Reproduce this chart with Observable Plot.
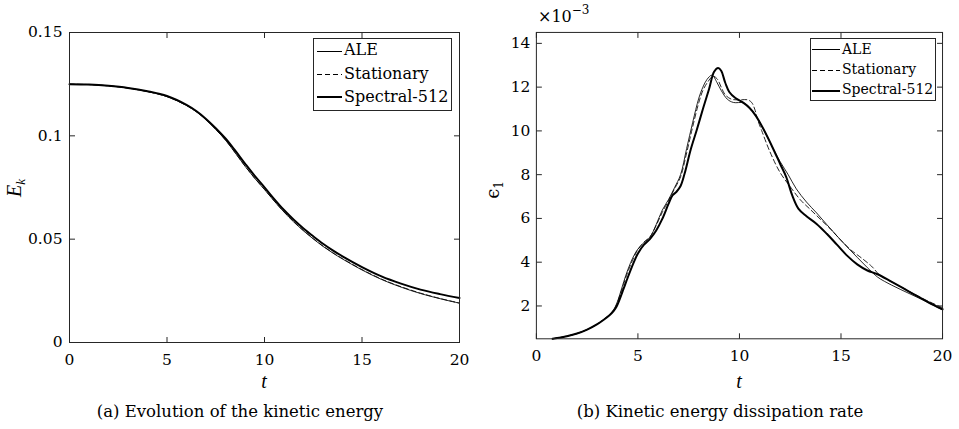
<!DOCTYPE html>
<html>
<head>
<meta charset="utf-8">
<script src="https://cdn.jsdelivr.net/npm/d3@7"></script>
<script src="https://cdn.jsdelivr.net/npm/@observablehq/plot@0.6"></script>
<style>
  body { margin: 0; background: #fff; }
  #fig { position: relative; width: 959px; height: 429px; color: #000; }
  .panel { position: absolute; top: 0; }
  .lbl { position: absolute; white-space: nowrap; line-height: 1; }
  .legend { position: absolute; border: 1px solid #262626; background: #fff; box-sizing: border-box; }
  .legend .txt { position: absolute; white-space: nowrap; line-height: 1; }
  .legend .sw { position: absolute; height: 0; }
</style>
</head>
<body>
<div id="fig">
  <div id="panelA" class="panel" style="left:0"></div>
  <div id="panelB" class="panel" style="left:480px"></div>

  <div class="lbl it" style="left:15px;top:188px;font-size:20px;transform:translate(-50%,-50%) rotate(-90deg)"><i>E</i><sub style="font-size:13px;vertical-align:-4px"><i>k</i></sub></div>
  <div class="lbl it" style="left:264px;top:371px;font-size:20px;transform:translateX(-50%)"><i>t</i></div>
  <div class="lbl rm" style="left:0;width:480px;top:404px;font-size:16.5px;text-align:center">(a) Evolution of the kinetic energy</div>

  <div class="lbl rm" style="left:494px;top:190px;font-size:18px;transform:translate(-50%,-50%) rotate(-90deg)">ϵ<sub style="font-size:12px;vertical-align:-4px">1</sub></div>
  <div class="lbl it" style="left:739px;top:371px;font-size:20px;transform:translateX(-50%)"><i>t</i></div>
  <div class="lbl rm" style="left:480px;width:480px;top:404px;font-size:16.5px;text-align:center">(b) Kinetic energy dissipation rate</div>
  <div class="lbl rm" style="left:538px;top:9px;font-size:16px">×10<span style="font-size:12px;position:relative;top:-8px">−3</span></div>

  <div id="legA" class="legend" style="left:313px;top:38px;width:139px;height:73px"></div>
  <div id="legB" class="legend" style="left:810px;top:38px;width:126px;height:63px"></div>
</div>

<script>
// ---- (a) kinetic energy E_k(t) ----
const ekTime = [0, 1, 2, 3, 4, 5, 6, 6.5, 7, 7.5, 8, 8.5, 9, 9.5, 10, 10.5, 11, 11.5, 12, 12.5, 13, 13.5, 14, 15, 16, 17, 18, 19, 20];
const ekSpectral   = [0.1250, 0.1248, 0.1242, 0.1232, 0.1216, 0.1193, 0.1150, 0.1120, 0.1082, 0.1037, 0.0987, 0.0928, 0.0866, 0.0806, 0.0751, 0.0694, 0.0641, 0.0594, 0.0552, 0.0514, 0.0478, 0.0446, 0.0417, 0.0365, 0.0320, 0.0285, 0.0256, 0.0234, 0.0215];
const ekALE        = [0.1250, 0.1248, 0.1242, 0.1231, 0.1214, 0.1190, 0.1147, 0.1117, 0.1078, 0.1031, 0.0979, 0.0917, 0.0853, 0.0794, 0.0740, 0.0684, 0.0631, 0.0583, 0.0540, 0.0501, 0.0465, 0.0433, 0.0404, 0.0351, 0.0305, 0.0268, 0.0237, 0.0212, 0.0190];
const ekStationary = [0.1250, 0.1248, 0.1242, 0.1231, 0.1214, 0.1190, 0.1147, 0.1117, 0.1079, 0.1032, 0.0980, 0.0918, 0.0854, 0.0795, 0.0741, 0.0685, 0.0632, 0.0585, 0.0542, 0.0503, 0.0467, 0.0435, 0.0406, 0.0353, 0.0307, 0.0270, 0.0239, 0.0213, 0.0191];
const ekXTicks = [0, 5, 10, 15, 20];
const ekYTicks = [0, 0.05, 0.1, 0.15];
const ekXDomain = [0, 20];
const ekYDomain = [0, 0.15];

// ---- (b) dissipation rate eps_1(t), in units of 1e-3 ----
const epsTimeSpectral = [0.8, 1.5, 2, 2.5, 3, 3.3, 3.6, 3.8, 3.95, 4.1, 4.3, 4.5, 4.8, 5.0, 5.3, 5.6, 5.9, 6.2, 6.5, 6.7, 6.9, 7.1, 7.3, 7.6, 7.9, 8.2, 8.5, 8.75, 8.95, 9.1, 9.3, 9.5, 9.8, 10.2, 10.5, 10.8, 11.2, 11.6, 12.0, 12.3, 12.6, 12.9, 13.3, 13.8, 14.3, 14.8, 15.3, 15.8, 16.3, 16.8, 17.5, 18.5, 19.3, 20];
const epsSpectral = [0.50, 0.62, 0.74, 0.92, 1.17, 1.36, 1.58, 1.77, 1.98, 2.3, 2.8, 3.3, 4.0, 4.4, 4.8, 5.07, 5.45, 5.98, 6.65, 7.05, 7.22, 7.48, 8.05, 9.15, 10.05, 11.0, 11.9, 12.7, 12.88, 12.75, 12.2, 11.78, 11.5, 11.28, 11.05, 10.7, 10.05, 9.3, 8.5, 7.9, 7.05, 6.45, 6.1, 5.75, 5.3, 4.8, 4.3, 3.9, 3.62, 3.45, 3.1, 2.58, 2.17, 1.85];
const epsTimeALE = [0.8, 1.5, 2, 2.5, 3, 3.3, 3.6, 3.8, 3.95, 4.1, 4.3, 4.5, 4.8, 5.0, 5.3, 5.6, 5.9, 6.2, 6.5, 6.8, 7.1, 7.4, 7.7, 8.0, 8.2, 8.4, 8.65, 8.9, 9.1, 9.4, 9.7, 10.2, 10.5, 10.8, 11.2, 11.6, 12.0, 12.4, 12.8, 13.3, 13.8, 14.3, 14.8, 15.3, 15.8, 16.3, 16.8, 17.5, 18.4, 19.2, 20];
const epsALE = [0.50, 0.62, 0.74, 0.92, 1.17, 1.37, 1.6, 1.82, 2.1, 2.5, 3.1, 3.65, 4.3, 4.6, 4.9, 5.15, 5.72, 6.38, 6.85, 7.4, 8.0, 9.2, 10.4, 11.5, 12.0, 12.35, 12.55, 12.2, 11.85, 11.45, 11.3, 11.28, 11.05, 10.7, 10.05, 9.3, 8.6, 8.0, 7.35, 6.75, 6.25, 5.72, 5.2, 4.7, 4.22, 3.75, 3.32, 2.95, 2.55, 2.2, 1.82];
const epsTimeStationary = [0.8, 1.5, 2, 2.5, 3, 3.3, 3.6, 3.8, 3.95, 4.1, 4.3, 4.5, 4.8, 5.0, 5.3, 5.6, 5.9, 6.2, 6.5, 6.8, 7.1, 7.4, 7.7, 8.0, 8.2, 8.45, 8.7, 8.9, 9.1, 9.3, 9.6, 10.0, 10.4, 10.6, 10.75, 10.9, 11.1, 11.5, 12.0, 12.5, 13.0, 13.5, 14.0, 14.5, 15.0, 15.5, 16.0, 16.5, 16.9, 17.3, 18.0, 19.0, 20];
const epsStationary = [0.50, 0.62, 0.74, 0.92, 1.17, 1.37, 1.6, 1.8, 2.06, 2.45, 3.0, 3.55, 4.22, 4.58, 4.92, 5.17, 5.68, 6.28, 6.8, 7.35, 7.9, 9.0, 10.2, 11.3, 11.85, 12.25, 12.5, 12.38, 12.0, 11.65, 11.45, 11.42, 11.42, 11.3, 11.0, 10.5, 10.0, 9.05, 8.1, 7.45, 6.85, 6.4, 5.95, 5.5, 5.0, 4.55, 4.2, 3.82, 3.42, 3.2, 2.85, 2.35, 1.92];
const epsXTicks = [0, 5, 10, 15, 20];
const epsYTicks = [2, 4, 6, 8, 10, 12, 14];
const epsXDomain = [0, 20];
const epsYDomain = [0.5, 14.5];

const seriesNames = ["ALE", "Stationary", "Spectral-512"];

const FONT = `"DejaVu Serif", serif`;
const ITALIC_FONT = `"Liberation Serif", "DejaVu Serif", serif`;
const BASE = 0.846; // baseline offset of DejaVu Serif at line-height 1
const AXIS = "#262626";
const TICK = 5.5;
const lineStyle = {
  "ALE": {strokeWidth: 0.85},
  "Stationary": {strokeWidth: 0.85, strokeDasharray: "5,3"},
  "Spectral-512": {strokeWidth: 2}
};

document.querySelectorAll("#fig .rm").forEach(el => { el.style.fontFamily = FONT; });
document.querySelectorAll("#fig .it").forEach(el => { el.style.fontFamily = ITALIC_FONT; });

// inward tick marks drawn as custom dot symbols
const tickUp = {draw(c) { c.moveTo(0, 0); c.lineTo(0, -TICK); }};
const tickDown = {draw(c) { c.moveTo(0, 0); c.lineTo(0, TICK); }};
const tickRight = {draw(c) { c.moveTo(0, 0); c.lineTo(TICK, 0); }};
const tickLeft = {draw(c) { c.moveTo(0, 0); c.lineTo(-TICK, 0); }};

function boxTicks(xt, yt, xd, yd) {
  const o = {stroke: AXIS, fill: "none", strokeWidth: 1};
  return [
    Plot.dot(xt, {...o, x: d => d, y: () => yd[0], symbol: tickUp}),
    Plot.dot(xt, {...o, x: d => d, y: () => yd[1], symbol: tickDown}),
    Plot.dot(yt, {...o, y: d => d, x: () => xd[0], symbol: tickRight}),
    Plot.dot(yt, {...o, y: d => d, x: () => xd[1], symbol: tickLeft})
  ];
}

function rows(ts, vs) { return ts.map((t, i) => ({t, v: vs[i]})); }

function seriesLines(list) {
  return list.map(([name, ts, vs]) =>
    Plot.line(rows(ts, vs), {x: "t", y: "v", stroke: "#000", curve: "catmull-rom", ...lineStyle[name]}));
}

const fmt = d => String(d);

function panel(o) {
  return Plot.plot({
    width: 480, height: 395,
    marginLeft: o.ml, marginRight: o.mr, marginTop: 32, marginBottom: o.mb,
    style: {fontFamily: FONT, fontSize: "15.5px", color: "#000", background: "transparent", overflow: "visible"},
    x: {domain: o.xd},
    y: {domain: o.yd},
    marks: [
      ...seriesLines(o.series),
      Plot.frame({stroke: AXIS, strokeWidth: 1}),
      ...boxTicks(o.xt, o.yt, o.xd, o.yd),
      Plot.axisX(o.xt, {tickSize: 0, tickPadding: 11, tickFormat: fmt, label: null, fontSize: 15.5}),
      Plot.axisY(o.yt, {tickSize: 0, tickPadding: o.yPad, tickFormat: fmt, label: null, fontSize: 15.5})
    ]
  });
}

const plotA = panel({
  ml: 69, mr: 21, mb: 53, xd: ekXDomain, yd: ekYDomain, xt: ekXTicks, yt: ekYTicks, yPad: 7,
  series: [["Spectral-512", ekTime, ekSpectral], ["Stationary", ekTime, ekStationary], ["ALE", ekTime, ekALE]]
});
document.getElementById("panelA").appendChild(plotA);

const plotB = panel({
  ml: 56, mr: 17, mb: 56, xd: epsXDomain, yd: epsYDomain, xt: epsXTicks, yt: epsYTicks, yPad: 6,
  series: [["Spectral-512", epsTimeSpectral, epsSpectral], ["Stationary", epsTimeStationary, epsStationary], ["ALE", epsTimeALE, epsALE]]
});
document.getElementById("panelB").appendChild(plotB);

// legends: one row per series, line sample then name
function swatchStyle(name, w) {
  const s = lineStyle[name];
  if (s.strokeDasharray) {
    return `height:1px;width:${w}px;background:repeating-linear-gradient(to right,#000 0 5px,transparent 5px 8px)`;
  }
  return `border-top:${s.strokeWidth >= 2 ? 2 : 1}px solid #000;width:${w}px`;
}
function buildLegend(id, opt) {
  const el = document.getElementById(id);
  seriesNames.forEach((name, i) => {
    const sw = document.createElement("div");
    sw.className = "sw";
    sw.setAttribute("style", `left:${opt.swLeft}px;top:${opt.lineY[i]}px;` + swatchStyle(name, opt.swWidth));
    el.appendChild(sw);
    const tx = document.createElement("div");
    tx.className = "txt";
    tx.textContent = name;
    tx.style.left = opt.textLeft + "px";
    tx.style.top = (opt.baseY[i] - opt.fontSize * BASE) + "px";
    tx.style.fontSize = opt.fontSize + "px";
    tx.style.fontFamily = FONT;
    el.appendChild(tx);
  });
}
buildLegend("legA", {fontSize: 16, swLeft: 2.7, swWidth: 25, textLeft: 30, lineY: [11.7, 35, 57.2], baseY: [17, 41, 63.7]});
buildLegend("legB", {fontSize: 14, swLeft: 0.7, swWidth: 28, textLeft: 31, lineY: [10.3, 31, 50.5], baseY: [15.3, 35.3, 55.3]});
</script>
</body>
</html>
